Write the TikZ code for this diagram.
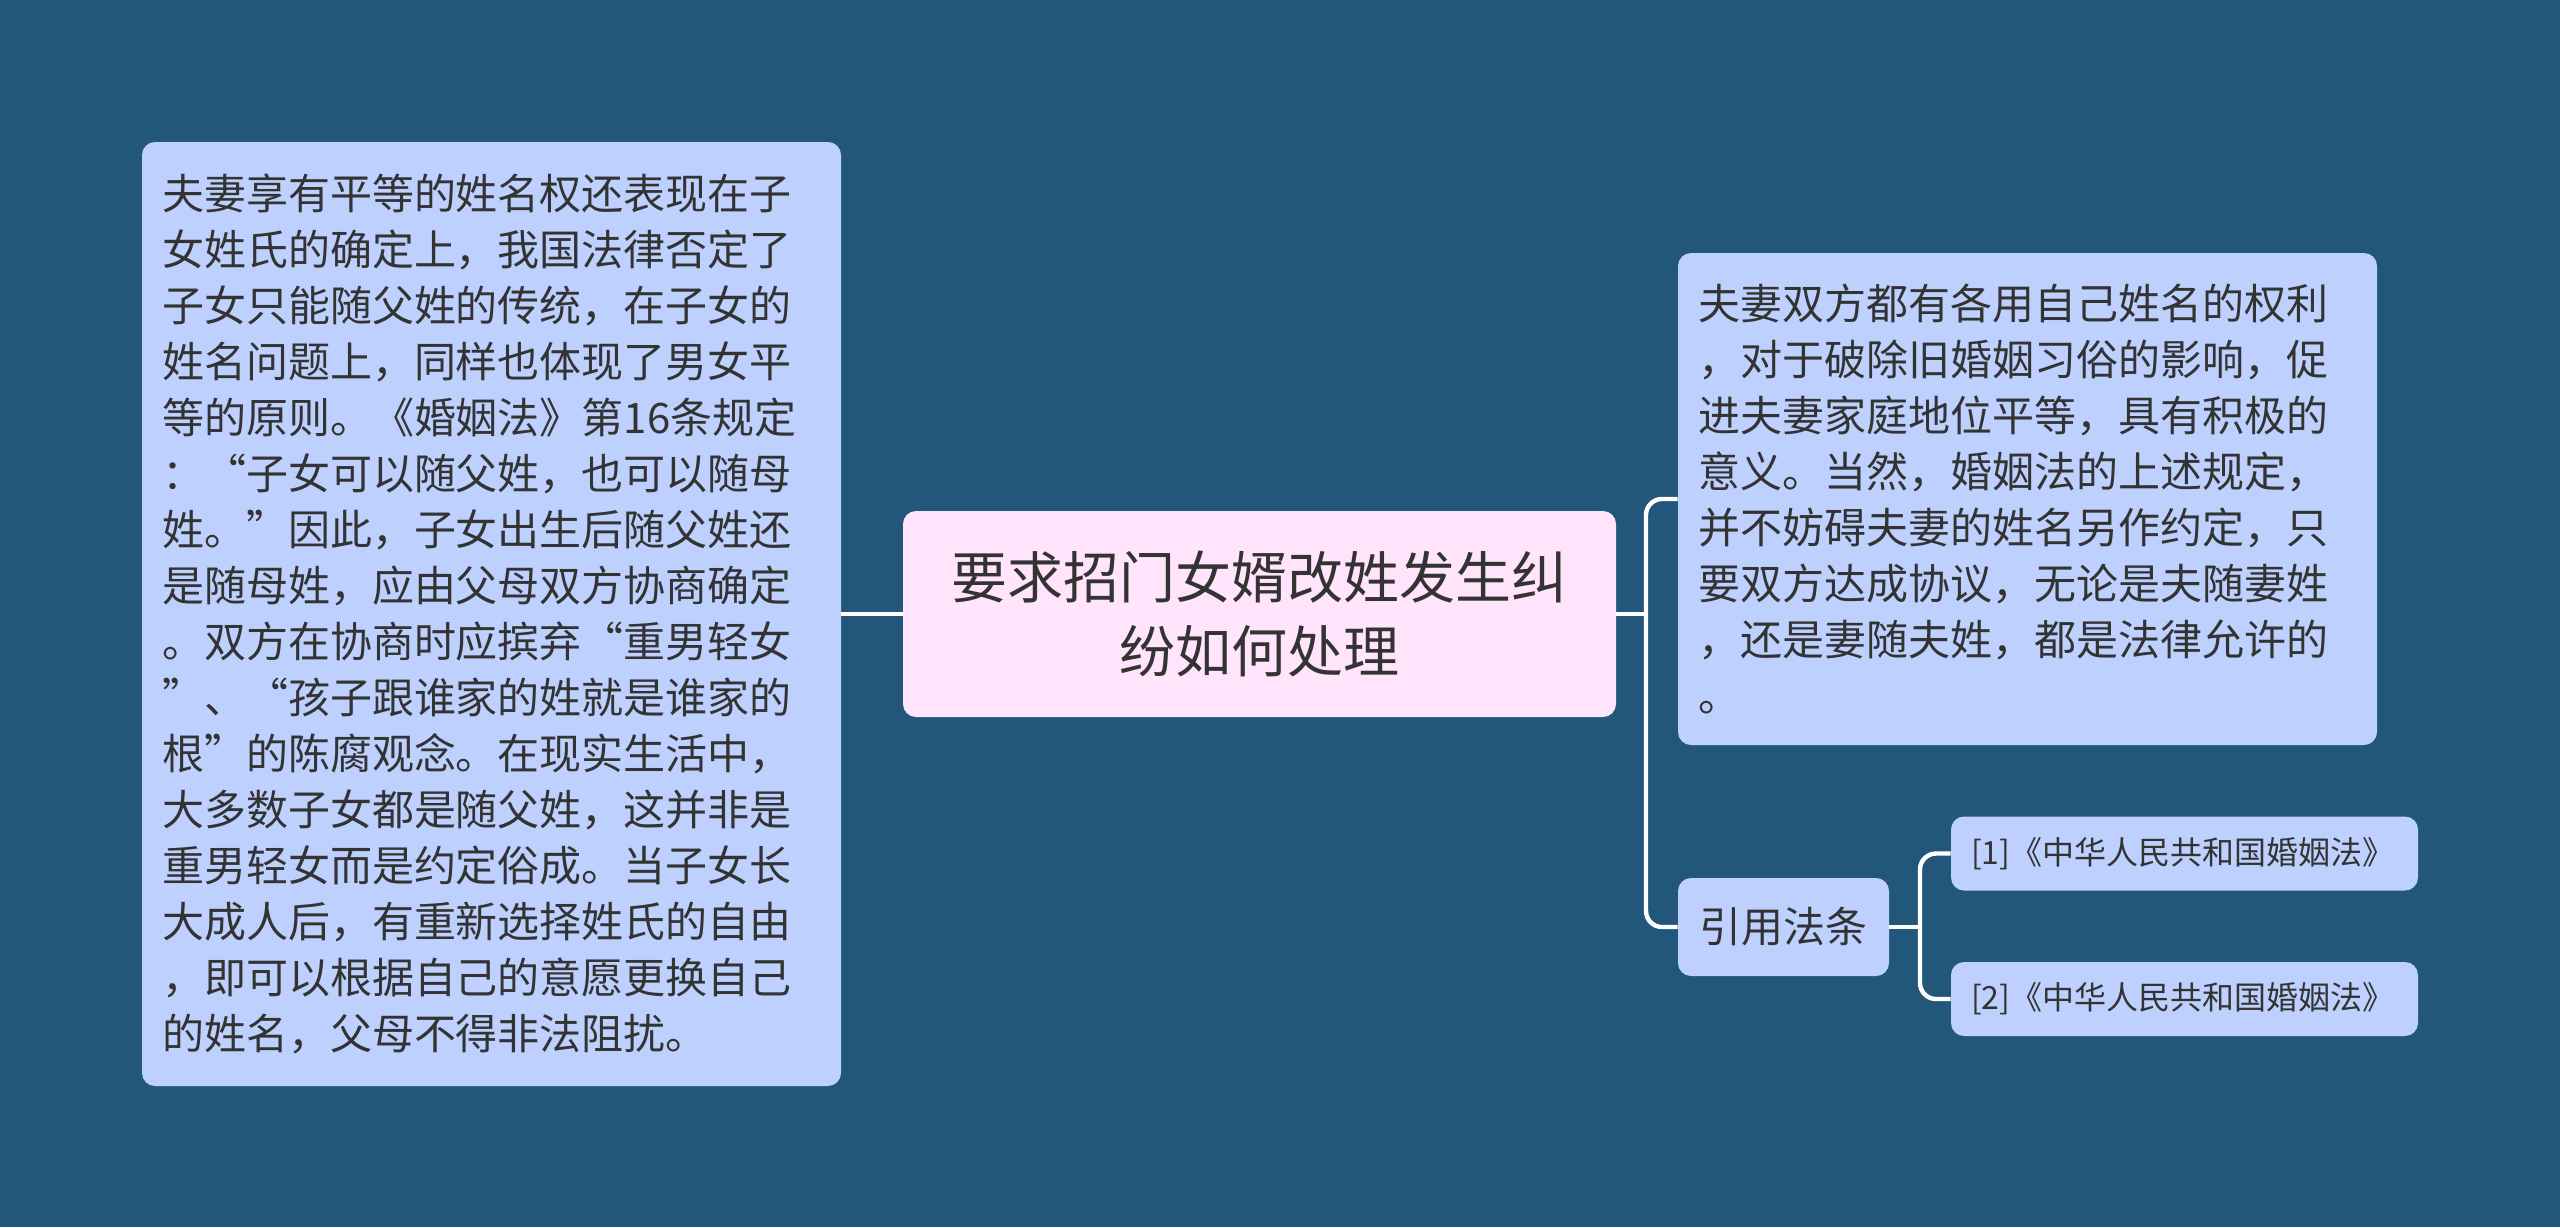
\documentclass[tikz,border=0pt]{standalone}
\usepackage{fontspec}
\setmainfont{Noto Sans CJK SC}
\usepackage{xcolor}
\definecolor{bgblue}{RGB}{34,86,122}
\definecolor{boxblue}{RGB}{190,209,254}
\definecolor{boxpink}{RGB}{255,228,251}
\definecolor{inkgray}{RGB}{51,51,51}

\begin{document}
\begin{tikzpicture}[x=0.5pt, y=-0.5pt,
    every node/.style={rounded corners=6.5pt, text=inkgray, inner ysep=0pt},
    leaf/.style={fill=boxblue, align=left, inner xsep=10pt,
        font=\fontsize{21pt}{28pt}\selectfont},
    root/.style={fill=boxpink, align=center,
        font=\fontsize{28pt}{36.75pt}\selectfont},
    reflink/.style={fill=boxblue, align=left, inner xsep=10pt,
        font=\fontsize{16pt}{20pt}\selectfont},
    link/.style={draw=white, line width=2.2pt, rounded corners=8pt}]
    \fill[bgblue] (0,0) rectangle (2560,1227);
    \useasboundingbox (0,0) rectangle (2560,1227);

    % centre topic
    \node[root, minimum width=356.5pt, minimum height=103pt] (root) at (1259.5,614)
        {要求招门女婿改姓发生纠\\纷如何处理};

    % left branch
    \node[leaf, text width=329.5pt, minimum height=472pt] (note) at (491.5,614)
        {夫妻享有平等的姓名权还表现在子\\
        女姓氏的确定上，我国法律否定了\\
        子女只能随父姓的传统，在子女的\\
        姓名问题上，同样也体现了男女平\\
        等的原则。《婚姻法》第16条规定\\
        ：“子女可以随父姓，也可以随母\\
        姓。”因此，子女出生后随父姓还\\
        是随母姓，应由父母双方协商确定\\
        。双方在协商时应摈弃“重男轻女\\
        ”、“孩子跟谁家的姓就是谁家的\\
        根”的陈腐观念。在现实生活中，\\
        大多数子女都是随父姓，这并非是\\
        重男轻女而是约定俗成。当子女长\\
        大成人后，有重新选择姓氏的自由\\
        ，即可以根据自己的意愿更换自己\\
        的姓名，父母不得非法阻扰。};

    % right branch
    \node[leaf, text width=329.5pt, minimum height=246pt] (view) at (2027.5,499)
        {夫妻双方都有各用自己姓名的权利\\
        ，对于破除旧婚姻习俗的影响，促\\
        进夫妻家庭地位平等，具有积极的\\
        意义。当然，婚姻法的上述规定，\\
        并不妨碍夫妻的姓名另作约定，只\\
        要双方达成协议，无论是夫随妻姓\\
        ，还是妻随夫姓，都是法律允许的\\
        。};
    \node[leaf, align=center, minimum width=105.5pt, minimum height=49pt] (law) at (1783.5,927)
        {引用法条};
    \node[reflink, text width=213.5pt, minimum height=37pt] (ref1) at (2184.5,853.5)
        {[1]《中华人民共和国婚姻法》};
    \node[reflink, text width=213.5pt, minimum height=37pt] (ref2) at (2184.5,999)
        {[2]《中华人民共和国婚姻法》};

    \coordinate (j1) at (1646,614);
    \coordinate (j2) at (1920,927);

    % connectors
    \draw[link] (root.west) -- (note.east);
    \draw[link] (root.east) -- (j1);
    \draw[link] (view.west) -| (j1) |- (law.west);
    \draw[link] (law.east) -- (j2);
    \draw[link] (ref1.west) -| (j2) |- (ref2.west);
\end{tikzpicture}
\end{document}
